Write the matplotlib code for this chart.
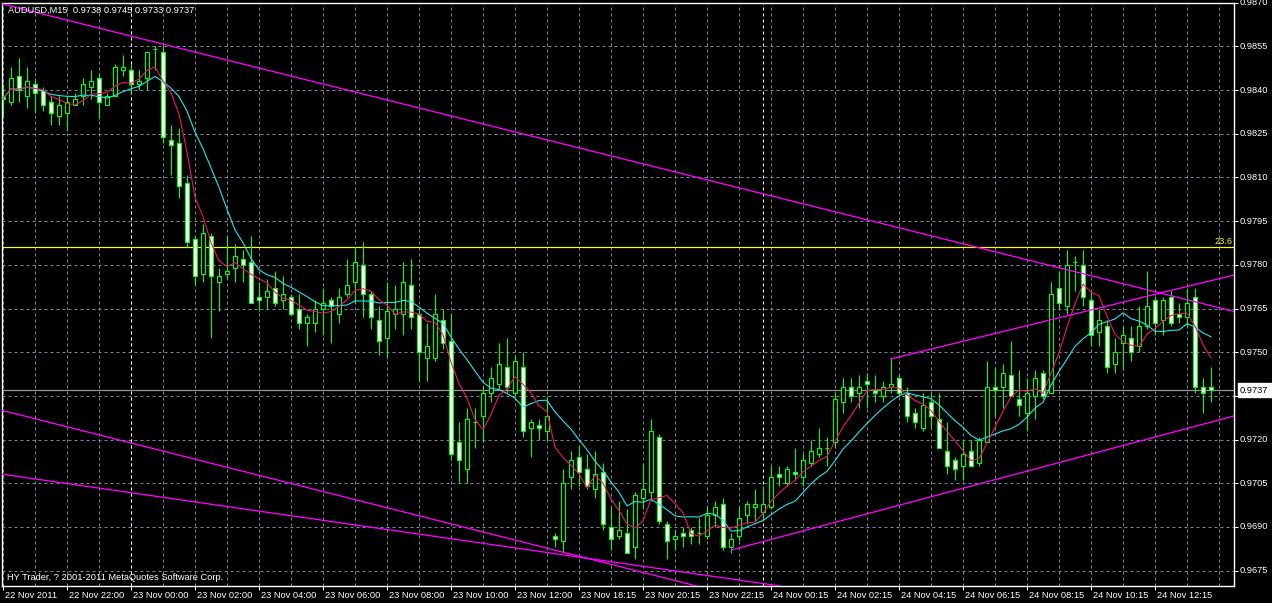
import matplotlib
matplotlib.use('Agg')
import matplotlib.pyplot as plt
from matplotlib.patches import Rectangle
import matplotlib.transforms as mtransforms
import pandas as pd

plt.rcParams['font.family'] = ['Liberation Sans', 'DejaVu Sans']

# ---------------- data (AUDUSD M15) ----------------
opens = [0.9838, 0.9836, 0.9845, 0.9838, 0.9842, 0.9840, 0.9836, 0.9831, 0.9832, 0.9835,
         0.9838, 0.9841, 0.9844, 0.9835, 0.9838, 0.9847, 0.9847, 0.9842, 0.9844, 0.9854,
         0.9853, 0.9823, 0.9822, 0.9808, 0.9789, 0.9777, 0.9790, 0.9774, 0.9777, 0.9779,
         0.9782, 0.9781, 0.9769, 0.9769, 0.9772, 0.9768, 0.9769, 0.9765, 0.9760, 0.9760,
         0.9765, 0.9768, 0.9763, 0.9770, 0.9774, 0.9780, 0.9770, 0.9761, 0.9755, 0.9763,
         0.9763, 0.9773, 0.9763, 0.9748, 0.9748, 0.9761, 0.9754, 0.9719, 0.9710, 0.9726,
         0.9728, 0.9736, 0.9739, 0.9745, 0.9736, 0.9745, 0.9724, 0.9725, 0.9723, 0.9687,
         0.9685, 0.9707, 0.9714, 0.9710, 0.9703, 0.9709, 0.9690, 0.9687, 0.9688, 0.9683,
         0.9700, 0.9702, 0.9721, 0.9691, 0.9686, 0.9688, 0.9689, 0.9688, 0.9687, 0.9694,
         0.9698, 0.9683, 0.9687, 0.9694, 0.9697, 0.9695, 0.9697, 0.9708, 0.9705, 0.9709,
         0.9707, 0.9712, 0.9715, 0.9717, 0.9719, 0.9733, 0.9738, 0.9736, 0.9740, 0.9737,
         0.9735, 0.9738, 0.9741, 0.9736, 0.9729, 0.9724, 0.9733, 0.9727, 0.9716, 0.9713,
         0.9711, 0.9716, 0.9712, 0.9719, 0.9738, 0.9738, 0.9742, 0.9734, 0.9729, 0.9735,
         0.9743, 0.9736, 0.9772, 0.9766, 0.9781, 0.9780, 0.9768, 0.9757, 0.9759, 0.9746,
         0.9753, 0.9755, 0.9752, 0.9759, 0.9768, 0.9761, 0.9769, 0.9763, 0.9762, 0.9769,
         0.9738, 0.9738]
highs = [0.9842, 0.9848, 0.9851, 0.9848, 0.9844, 0.9841, 0.9838, 0.9838, 0.9838, 0.9839,
         0.9844, 0.9847, 0.9846, 0.9839, 0.9849, 0.9852, 0.9849, 0.9847, 0.9853, 0.9855,
         0.9856, 0.9828, 0.9827, 0.9811, 0.9790, 0.9794, 0.9791, 0.9779, 0.9790, 0.9787,
         0.9785, 0.9790, 0.9774, 0.9775, 0.9778, 0.9776, 0.9770, 0.9770, 0.9763, 0.9768,
         0.9772, 0.9769, 0.9772, 0.9782, 0.9786, 0.9788, 0.9771, 0.9766, 0.9774, 0.9773,
         0.9781, 0.9782, 0.9765, 0.9760, 0.9770, 0.9765, 0.9763, 0.9726, 0.9731, 0.9731,
         0.9738, 0.9745, 0.9753, 0.9755, 0.9749, 0.9750, 0.9727, 0.9727, 0.9735, 0.9688,
         0.9710, 0.9716, 0.9718, 0.9715, 0.9716, 0.9712, 0.9697, 0.9699, 0.9696, 0.9702,
         0.9712, 0.9727, 0.9722, 0.9692, 0.9689, 0.9690, 0.9690, 0.9693, 0.9697, 0.9699,
         0.9700, 0.9688, 0.9697, 0.9699, 0.9703, 0.9704, 0.9711, 0.9711, 0.9711, 0.9717,
         0.9715, 0.9720, 0.9724, 0.9721, 0.9736, 0.9741, 0.9741, 0.9742, 0.9743, 0.9742,
         0.9740, 0.9748, 0.9742, 0.9738, 0.9731, 0.9736, 0.9736, 0.9736, 0.9726, 0.9714,
         0.9720, 0.9720, 0.9721, 0.9747, 0.9745, 0.9746, 0.9754, 0.9744, 0.9741, 0.9744,
         0.9744, 0.9774, 0.9778, 0.9785, 0.9783, 0.9785, 0.9771, 0.9765, 0.9761, 0.9755,
         0.9759, 0.9759, 0.9766, 0.9778, 0.9769, 0.9769, 0.9771, 0.9767, 0.9772, 0.9772,
         0.9741, 0.9745]
lows = [0.9831, 0.9835, 0.9836, 0.9834, 0.9832, 0.9833, 0.9828, 0.9828, 0.9826, 0.9835,
        0.9835, 0.9837, 0.9830, 0.9835, 0.9838, 0.9845, 0.9839, 0.9840, 0.9840, 0.9847,
        0.9822, 0.9811, 0.9803, 0.9786, 0.9773, 0.9774, 0.9755, 0.9764, 0.9775, 0.9774,
        0.9774, 0.9767, 0.9764, 0.9765, 0.9766, 0.9765, 0.9763, 0.9758, 0.9752, 0.9757,
        0.9756, 0.9753, 0.9760, 0.9769, 0.9767, 0.9762, 0.9758, 0.9749, 0.9748, 0.9758,
        0.9756, 0.9758, 0.9740, 0.9740, 0.9747, 0.9751, 0.9713, 0.9705, 0.9705, 0.9717,
        0.9719, 0.9733, 0.9737, 0.9736, 0.9735, 0.9721, 0.9714, 0.9720, 0.9720, 0.9683,
        0.9681, 0.9703, 0.9704, 0.9703, 0.9700, 0.9689, 0.9682, 0.9686, 0.9681, 0.9679,
        0.9696, 0.9699, 0.9691, 0.9679, 0.9682, 0.9683, 0.9684, 0.9684, 0.9686, 0.9690,
        0.9682, 0.9681, 0.9685, 0.9691, 0.9692, 0.9692, 0.9696, 0.9704, 0.9704, 0.9706,
        0.9704, 0.9711, 0.9714, 0.9711, 0.9717, 0.9729, 0.9733, 0.9731, 0.9731, 0.9733,
        0.9733, 0.9736, 0.9735, 0.9726, 0.9724, 0.9723, 0.9724, 0.9717, 0.9708, 0.9706,
        0.9706, 0.9711, 0.9711, 0.9719, 0.9728, 0.9731, 0.9735, 0.9728, 0.9723, 0.9727,
        0.9734, 0.9736, 0.9765, 0.9763, 0.9771, 0.9766, 0.9752, 0.9752, 0.9743, 0.9743,
        0.9744, 0.9747, 0.9750, 0.9758, 0.9756, 0.9756, 0.9759, 0.9760, 0.9759, 0.9736,
        0.9729, 0.9733]
closes = [0.9837, 0.9844, 0.9840, 0.9843, 0.9839, 0.9835, 0.9832, 0.9835, 0.9836, 0.9837,
          0.9842, 0.9843, 0.9836, 0.9838, 0.9848, 0.9848, 0.9842, 0.9843, 0.9853, 0.9854,
          0.9824, 0.9821, 0.9807, 0.9788, 0.9776, 0.9791, 0.9776, 0.9776, 0.9778, 0.9783,
          0.9780, 0.9767, 0.9768, 0.9771, 0.9767, 0.9770, 0.9763, 0.9760, 0.9762, 0.9765,
          0.9767, 0.9766, 0.9769, 0.9773, 0.9781, 0.9770, 0.9762, 0.9754, 0.9764, 0.9765,
          0.9774, 0.9762, 0.9750, 0.9752, 0.9763, 0.9753, 0.9715, 0.9713, 0.9727, 0.9726,
          0.9736, 0.9741, 0.9746, 0.9738, 0.9747, 0.9723, 0.9726, 0.9724, 0.9728, 0.9686,
          0.9705, 0.9713, 0.9709, 0.9704, 0.9708, 0.9691, 0.9686, 0.9689, 0.9681, 0.9701,
          0.9703, 0.9723, 0.9692, 0.9685, 0.9687, 0.9687, 0.9687, 0.9688, 0.9694, 0.9697,
          0.9683, 0.9686, 0.9693, 0.9698, 0.9698, 0.9698, 0.9707, 0.9707, 0.9710, 0.9708,
          0.9713, 0.9716, 0.9717, 0.9717, 0.9734, 0.9738, 0.9735, 0.9738, 0.9739, 0.9736,
          0.9738, 0.9739, 0.9736, 0.9728, 0.9726, 0.9732, 0.9728, 0.9717, 0.9711, 0.9710,
          0.9715, 0.9711, 0.9720, 0.9738, 0.9737, 0.9743, 0.9735, 0.9732, 0.9736, 0.9741,
          0.9735, 0.9770, 0.9767, 0.9780, 0.9781, 0.9769, 0.9756, 0.9761, 0.9745, 0.9750,
          0.9756, 0.9750, 0.9759, 0.9766, 0.9760, 0.9768, 0.9760, 0.9762, 0.9767, 0.9738,
          0.9736, 0.9737]

time_tick_bars = [0, 8, 16, 24, 32, 40, 48, 56, 64, 72, 80, 88, 96, 104, 112, 120, 128, 136, 144]
time_tick_labels = ['22 Nov 2011', '22 Nov 22:00', '23 Nov 00:00', '23 Nov 02:00', '23 Nov 04:00',
                    '23 Nov 06:00', '23 Nov 08:00', '23 Nov 10:00', '23 Nov 12:00', '23 Nov 18:15',
                    '23 Nov 20:15', '23 Nov 22:15', '24 Nov 00:15', '24 Nov 02:15', '24 Nov 04:15',
                    '24 Nov 06:15', '24 Nov 08:15', '24 Nov 10:15', '24 Nov 12:15']
price_ticks = [0.9870, 0.9855, 0.9840, 0.9825, 0.9810, 0.9795, 0.9780, 0.9765,
               0.9750, 0.9735, 0.9720, 0.9705, 0.9690, 0.9675]
day_separator_bars = [16, 95]

fast_ma_period = 5
slow_ma_period = 10

fib_level = 0.97862
fib_label = '23.6'
bid_price = 0.9737
header = 'AUDUSD,M15  0.9738 0.9745 0.9733 0.9737'
footer = 'HY Trader, ? 2001-2011 MetaQuotes Software Corp.'

# trend lines: (bar index, price) anchors
line_top_desc = [(-0.375, 0.98698), (153.875, 0.97640)]
line_low_desc_a = [(-0.375, 0.97302), (86.125, 0.96701)]
line_low_desc_b = [(-0.375, 0.97082), (96.125, 0.96701)]
channel_low = [(91.1, 0.96821), (153.875, 0.97281)]
channel_up = [(111.0, 0.97477), (153.875, 0.97765)]

# ---------------- figure ----------------
W, H = 1272, 603
fig = plt.figure(figsize=(W / 100, H / 100), dpi=100, facecolor='black')
left_px, right_px, top_px, bot_px = 2, 1234, 2.5, 586
ax = fig.add_axes([left_px / W, 1 - bot_px / H, (right_px - left_px) / W, (bot_px - top_px) / H],
                  facecolor='black')
ax.set_xlim(-0.125, 153.875)
ax.set_ylim(0.96697, 0.98701)

PX = 0.72  # one pixel in points
grid_col = '#7a8796'
dash = (0, (3, 3))

# grid
ax.set_xticks(time_tick_bars)
ax.set_xticks(list(range(0, 154, 4)), minor=True)
ax.set_yticks(price_ticks)
ax.grid(True, which='both', axis='x', color=grid_col, linestyle=dash, linewidth=PX, zorder=0)
ax.grid(True, which='major', axis='y', color=grid_col, linestyle=dash, linewidth=PX, zorder=0)
ax.set_axisbelow(True)

ax.tick_params(axis='x', which='major', direction='out', length=4 * PX, width=PX, color='white',
               labelbottom=False)
ax.tick_params(axis='x', which='minor', length=0)
ax.yaxis.set_ticks_position('right')
ax.tick_params(axis='y', which='major', direction='out', length=4 * PX, width=PX, color='white',
               labelright=False, labelleft=False)
for s in ax.spines.values():
    s.set_color('white')
    s.set_linewidth(1.0)

# day separators
for b in day_separator_bars:
    ax.axvline(b, color='white', linestyle=dash, linewidth=PX, zorder=1)

# horizontal levels
ax.axhline(fib_level, color='#ffff00', linewidth=PX * 1.2, zorder=1)
ax.axhline(bid_price, color='#9a9a9a', linewidth=PX * 1.2, zorder=1)

# candles
lime = '#00ff00'
bw = 0.5
for i, (o, h, l, c) in enumerate(zip(opens, highs, lows, closes)):
    ax.vlines(i, l, h, color=lime, linewidth=PX * 1.1, zorder=2)
    bottom = min(o, c)
    height = abs(c - o)
    face = 'black' if c > o else 'white'
    ax.add_patch(Rectangle((i - bw / 2, bottom), bw, height, facecolor=face, edgecolor=lime,
                           linewidth=PX * 1.1, zorder=3))

# moving averages
cs = pd.Series(closes)
fast = cs.rolling(fast_ma_period, min_periods=1).mean()
slow = cs.rolling(slow_ma_period, min_periods=1).mean()
x = list(range(len(closes)))
ax.plot(x, slow, color='#22e6f2', linewidth=PX * 1.1, zorder=4)
ax.plot(x, fast, color='#f0146c', linewidth=PX * 1.1, zorder=4)

# trend lines
mag = '#ff00ff'
for ln in (line_top_desc, line_low_desc_a, line_low_desc_b):
    ax.axline(ln[0], ln[1], color=mag, linewidth=PX * 1.3, zorder=5)
for ln in (channel_low, channel_up):
    ax.plot([ln[0][0], ln[1][0]], [ln[0][1], ln[1][1]], color=mag, linewidth=PX * 1.3, zorder=5)

fs = 6.7
# time labels
xt = mtransforms.blended_transform_factory(ax.transData, ax.transAxes)
xt_off = xt + mtransforms.ScaledTranslation(2 / 100, -9.5 / 100, fig.dpi_scale_trans)
for b, lab in zip(time_tick_bars, time_tick_labels):
    ax.text(b, 0, lab, transform=xt_off, color='white', fontsize=fs, ha='left', va='center',
            clip_on=False)

# price labels
yt = mtransforms.blended_transform_factory(ax.transAxes, ax.transData)
yt_off = yt + mtransforms.ScaledTranslation(6 / 100, 0, fig.dpi_scale_trans)
for p in price_ticks:
    ax.text(1, p, f'{p:.4f}', transform=yt_off, color='white', fontsize=fs, ha='left', va='center',
            clip_on=False)

# bid price box
ax.text(1, bid_price, f'{bid_price:.4f}', transform=yt_off, color='black', fontsize=fs, ha='left',
        va='center', clip_on=False, zorder=10,
        bbox=dict(boxstyle='square,pad=0.25', facecolor='white', edgecolor='white'))

# fib label
ax.text(1, fib_level, fib_label, transform=yt + mtransforms.ScaledTranslation(-1.5 / 100, 5.5 / 100, fig.dpi_scale_trans),
        color='#ffff00', fontsize=fs, ha='right', va='center', zorder=6)

# header / footer
fig.text(8 / W, 1 - 10.5 / H, header, color='white', fontsize=fs, ha='left', va='center')
fig.text(7 / W, 1 - 577 / H, footer, color='white', fontsize=fs, ha='left', va='center')

fig.savefig('out.png', dpi=100, facecolor='black')
